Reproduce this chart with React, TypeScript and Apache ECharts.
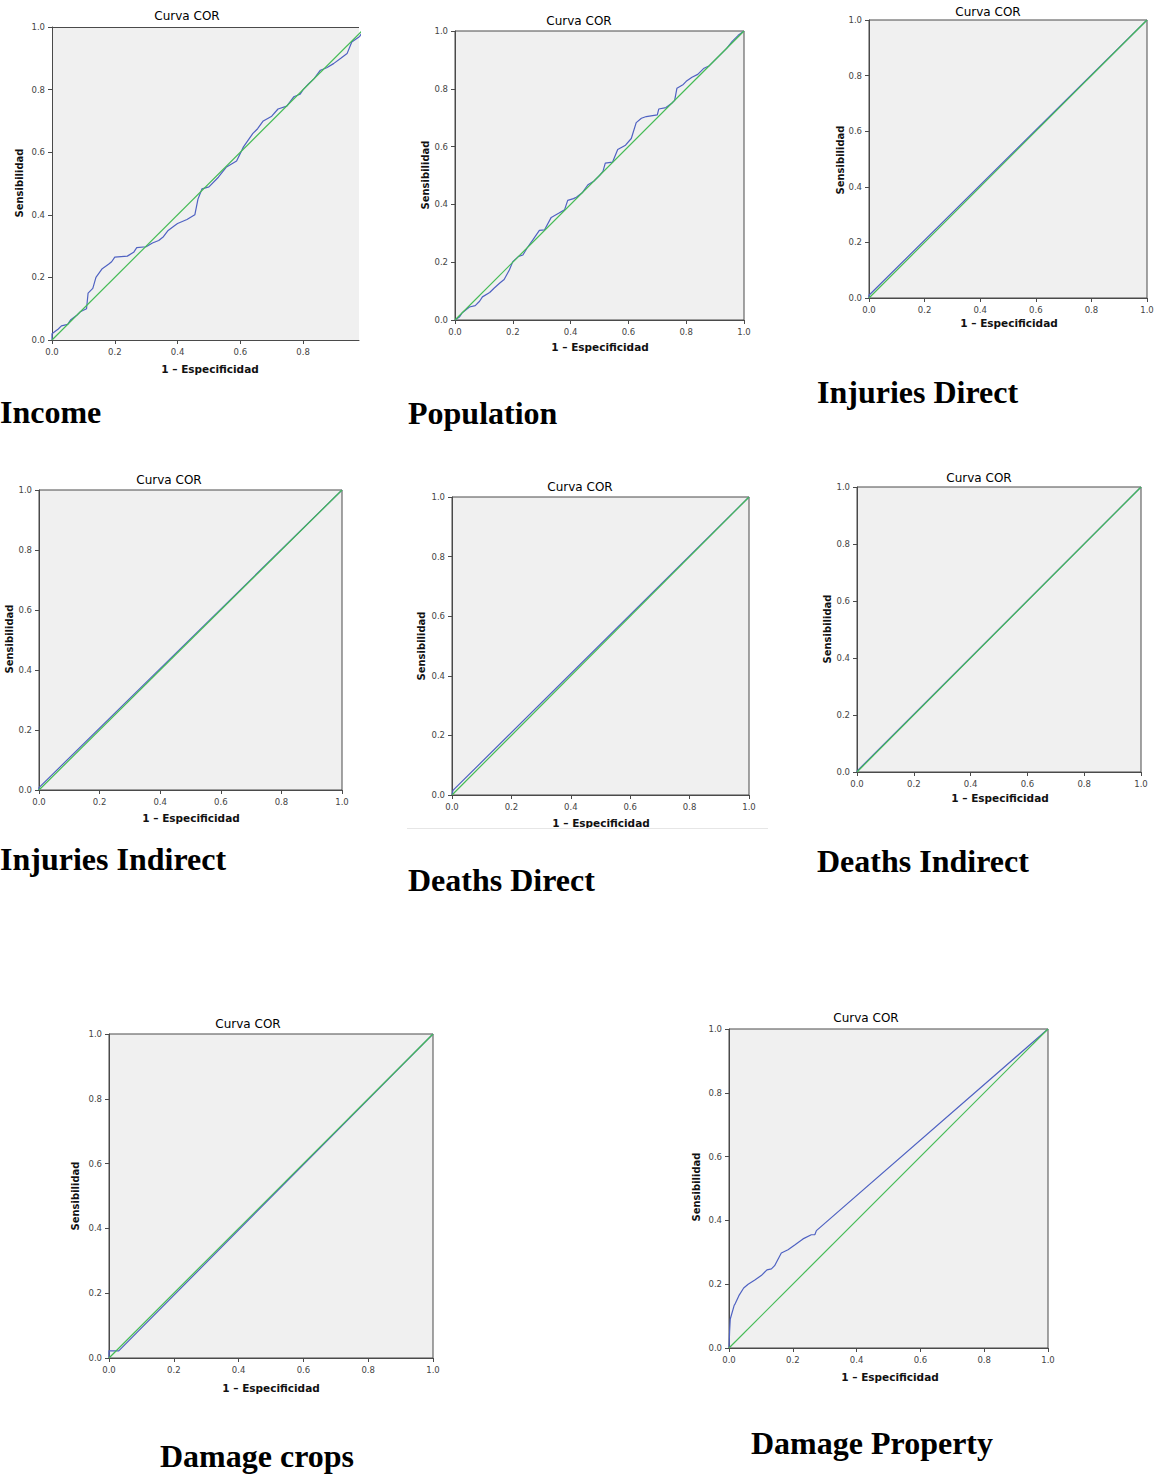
import React, { useEffect, useRef } from "react";
import * as echarts from "echarts";

// ---- data: ROC curves (1 - especificidad, sensibilidad) ----
const incomeROC = [
  [0, 0], [0, 0.02], [0.02, 0.035], [0.03, 0.045], [0.05, 0.05], [0.06, 0.065], [0.08, 0.08], [0.09, 0.09],
  [0.11, 0.1], [0.115, 0.15], [0.13, 0.165], [0.14, 0.2], [0.16, 0.228], [0.18, 0.242], [0.19, 0.25],
  [0.2, 0.265], [0.24, 0.268], [0.26, 0.28], [0.27, 0.295], [0.3, 0.298], [0.32, 0.31], [0.34, 0.318],
  [0.355, 0.33], [0.37, 0.35], [0.39, 0.365], [0.4, 0.372], [0.43, 0.385], [0.455, 0.4], [0.465, 0.45],
  [0.478, 0.483], [0.5, 0.489], [0.53, 0.52], [0.556, 0.553], [0.588, 0.572], [0.61, 0.617], [0.64, 0.66],
  [0.655, 0.675], [0.673, 0.7], [0.7, 0.715], [0.72, 0.738], [0.748, 0.747], [0.77, 0.777], [0.79, 0.785],
  [0.8, 0.8], [0.817, 0.818], [0.835, 0.835], [0.855, 0.862], [0.875, 0.87], [0.897, 0.883], [0.92, 0.9],
  [0.94, 0.915], [0.955, 0.952], [0.98, 0.97], [1, 1],
];
const populationROC = [
  [0, 0], [0.015, 0.01], [0.025, 0.025], [0.05, 0.045], [0.07, 0.05], [0.085, 0.065], [0.095, 0.08],
  [0.12, 0.095], [0.135, 0.11], [0.155, 0.128], [0.17, 0.14], [0.188, 0.173], [0.2, 0.202], [0.22, 0.22],
  [0.235, 0.225], [0.25, 0.25], [0.27, 0.278], [0.292, 0.31], [0.31, 0.312], [0.333, 0.355], [0.36, 0.37],
  [0.379, 0.381], [0.39, 0.414], [0.41, 0.42], [0.42, 0.425], [0.44, 0.44], [0.46, 0.468], [0.48, 0.48],
  [0.5, 0.5], [0.512, 0.514], [0.52, 0.543], [0.545, 0.546], [0.563, 0.59], [0.59, 0.605], [0.61, 0.628],
  [0.627, 0.683], [0.645, 0.698], [0.662, 0.704], [0.7, 0.71], [0.705, 0.73], [0.73, 0.735], [0.75, 0.75],
  [0.76, 0.76], [0.768, 0.802], [0.79, 0.815], [0.8, 0.826], [0.82, 0.84], [0.84, 0.85], [0.86, 0.87],
  [0.88, 0.88], [0.9, 0.9], [0.92, 0.92], [0.94, 0.94], [0.96, 0.965], [0.98, 0.985], [1, 1],
];
const injuriesDirectROC = [[0, 0], [0, 0.01], [1, 1]];
const injuriesIndirectROC = [[0, 0], [0, 0.008], [1, 1]];
const deathsDirectROC = [[0, 0], [0.003, 0.015], [0.01, 0.022], [1, 1]];
const deathsIndirectROC = [[0, 0], [0, 0.003], [1, 1]];
const damageCropsROC = [[0, 0], [0, 0.022], [0.03, 0.022], [1, 1]];
const damagePropertyROC = [
  [0, 0], [0.002, 0.054], [0.004, 0.091], [0.016, 0.133], [0.02, 0.14], [0.031, 0.164], [0.046, 0.188],
  [0.06, 0.2], [0.081, 0.213], [0.101, 0.227], [0.119, 0.245], [0.133, 0.248], [0.143, 0.258],
  [0.164, 0.298], [0.185, 0.308], [0.206, 0.323], [0.232, 0.342], [0.258, 0.355], [0.269, 0.355],
  [0.274, 0.368], [1, 1],
];
const diagonal = [[0, 0], [1, 1]];
const tickValues = [0, 0.2, 0.4, 0.6, 0.8, 1.0];

const panelNames = [
  "Income", "Population", "Injuries Direct", "Injuries Indirect",
  "Deaths Direct", "Deaths Indirect", "Damage crops", "Damage Property",
];
const panelCurves = [
  incomeROC, populationROC, injuriesDirectROC, injuriesIndirectROC,
  deathsDirectROC, deathsIndirectROC, damageCropsROC, damagePropertyROC,
];
const panelXMax = [0.978, 1, 1, 1, 1, 1, 1, 1];
const chartTitle = "Curva COR";
const xAxisTitle = "1 \u2013 Especificidad";
const yAxisTitle = "Sensibilidad";

// ---- layout ----
const layout = [
  { grid: [52, 27, 307, 313], title: [187, 16], xName: [210, 369], yName: [19, 183], label: [0, 412] },
  { grid: [455, 31, 289, 289], title: [579, 21], xName: [600, 347], yName: [425, 175], label: [408, 413] },
  { grid: [869, 20, 278, 278], title: [988, 12], xName: [1009, 323], yName: [840, 160], label: [817, 392] },
  { grid: [39, 490, 303, 300], title: [169, 480], xName: [191, 818], yName: [9, 639], label: [0, 859] },
  { grid: [452, 497, 297, 298], title: [580, 487], xName: [601, 823], yName: [421, 646], label: [408, 880] },
  { grid: [857, 487, 284, 285], title: [979, 478], xName: [1000, 798], yName: [827, 629], label: [817, 861] },
  { grid: [109, 1034, 324, 324], title: [248, 1024], xName: [271, 1388], yName: [75, 1196], label: [160, 1456] },
  { grid: [729, 1029, 319, 319], title: [866, 1018], xName: [890, 1377], yName: [696, 1187], label: [751, 1443] },
];

const BLUE = "#4f62c2";
const GREEN = "#45bb55";
const AXIS = "#4a4a4a";
const SANS = "DejaVu Sans";

export default function App() {
  const ref = useRef<HTMLDivElement>(null);
  useEffect(() => {
    if (!ref.current) return;
    const chart = echarts.init(ref.current, null, { renderer: "svg" });
    const grids: any[] = [];
    const xAxes: any[] = [];
    const yAxes: any[] = [];
    const series: any[] = [];
    const graphics: any[] = [];
    layout.forEach((L, i) => {
      const [gl, gt, gw, gh] = L.grid;
      const cropped = panelXMax[i] < 1;
      grids.push({
        left: gl, top: gt, width: gw, height: gh,
        show: true, backgroundColor: "#f0f0f0",
        borderColor: AXIS, borderWidth: cropped ? 0 : 1,
        containLabel: false,
      });
      const axisCommon = {
        type: "value", min: 0,
        splitLine: { show: false },
        axisLine: { show: true, onZero: false, lineStyle: { color: AXIS, width: 1 } },
        axisTick: { show: true, inside: false, length: 4, lineStyle: { color: AXIS } },
        axisLabel: {
          color: "#444", fontSize: 8.5, fontFamily: SANS, margin: 7,
          formatter: (v: number) => v.toFixed(1),
        },
      };
      const xTicks = tickValues.filter((t) => t <= panelXMax[i] + 1e-9);
      xAxes.push({
        ...axisCommon, gridIndex: i, max: panelXMax[i], position: "bottom",
        axisTick: { ...axisCommon.axisTick, customValues: xTicks },
        axisLabel: { ...axisCommon.axisLabel, customValues: xTicks },
      });
      yAxes.push({
        ...axisCommon, gridIndex: i, max: 1, position: "left",
        axisTick: { ...axisCommon.axisTick, customValues: tickValues },
        axisLabel: { ...axisCommon.axisLabel, customValues: tickValues },
      });
      series.push({
        type: "line", xAxisIndex: i, yAxisIndex: i, data: panelCurves[i],
        symbol: "none", showSymbol: false, lineStyle: { color: BLUE, width: 1.2 }, z: 3,
      });
      series.push({
        type: "line", xAxisIndex: i, yAxisIndex: i, data: diagonal,
        symbol: "none", showSymbol: false, lineStyle: { color: GREEN, width: 1.2 }, z: 4,
      });
      if (cropped) {
        graphics.push({
          type: "line", shape: { x1: gl, y1: gt + 0.5, x2: gl + gw, y2: gt + 0.5 },
          style: { stroke: AXIS, lineWidth: 1 },
        });
      }
      graphics.push({
        type: "text", x: L.title[0], y: L.title[1],
        style: { text: chartTitle, fill: "#000", fontSize: 12, fontFamily: SANS, align: "center", verticalAlign: "middle" },
      });
      graphics.push({
        type: "text", x: L.xName[0], y: L.xName[1],
        style: { text: xAxisTitle, fill: "#111", fontSize: 10.5, fontWeight: "bold", fontFamily: SANS, align: "center", verticalAlign: "middle" },
      });
      graphics.push({
        type: "text", x: L.yName[0], y: L.yName[1], rotation: Math.PI / 2,
        style: { text: yAxisTitle, fill: "#111", fontSize: 10, fontWeight: "bold", fontFamily: SANS, align: "center", verticalAlign: "middle" },
      });
      graphics.push({
        type: "text", x: L.label[0], y: L.label[1],
        style: {
          text: panelNames[i], fill: "#000", fontSize: 32, fontWeight: "bold",
          fontFamily: "Liberation Serif", align: "left", verticalAlign: "middle",
        },
      });
    });
    graphics.push({
      type: "line", shape: { x1: 407, y1: 828.5, x2: 768, y2: 828.5 },
      style: { stroke: "#e6e6e6", lineWidth: 1 },
    });
    chart.setOption({
      animation: false,
      backgroundColor: "#ffffff",
      grid: grids,
      xAxis: xAxes,
      yAxis: yAxes,
      series,
      graphic: graphics,
    });
    return () => chart.dispose();
  }, []);
  return (
    <div
      ref={ref}
      style={{ position: "absolute", left: 0, top: 0, width: 1160, height: 1475 }}
    />
  );
}
